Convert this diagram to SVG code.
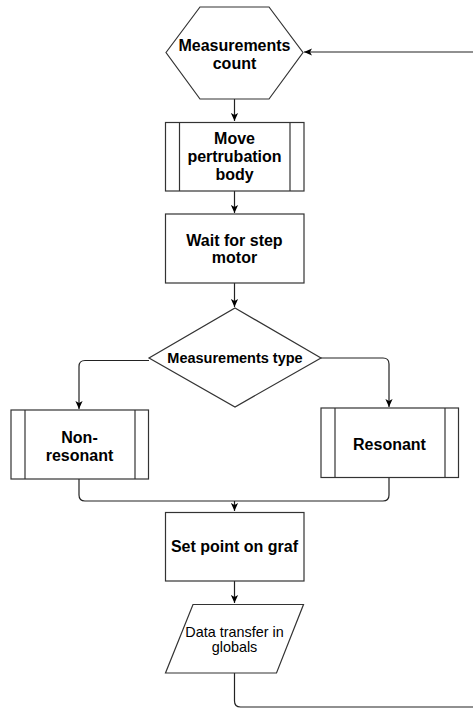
<svg xmlns="http://www.w3.org/2000/svg" width="473" height="709" viewBox="0 0 473 709">
<defs>
<marker id="arr" viewBox="0 0 10 10" refX="10" refY="5" markerWidth="8" markerHeight="8" markerUnits="userSpaceOnUse" orient="auto">
<path d="M0,0.5 L10,5 L0,9.5 L2.5,5 Z" fill="#000"/>
</marker>
<style>
.shape{fill:#fff;stroke:#333;stroke-width:1.2}
.edge{fill:none;stroke:#222;stroke-width:1.2}
.t{font-family:"Liberation Sans",Arial,sans-serif;font-weight:bold;font-size:16px;fill:#000;text-anchor:middle}
.r{font-weight:normal;font-size:14.4px}
.m{font-size:14.5px}
</style>
</defs>
<rect width="473" height="709" fill="#fff"/>
<g id="connectors">
<path class="edge" d="M234.5,99 V121" marker-end="url(#arr)"/>
<path class="edge" d="M234.5,191 V213" marker-end="url(#arr)"/>
<path class="edge" d="M234.5,283 V307" marker-end="url(#arr)"/>
<path class="edge" d="M149,360.5 H85 Q79,360.5 79,366.5 V409" marker-end="url(#arr)"/>
<path class="edge" d="M321,358 H383 Q389,358 389,364 V407" marker-end="url(#arr)"/>
<path class="edge" d="M79,479 V495 Q79,501 85,501 H383 Q389,501 389,495 V478"/>
<path class="edge" d="M234.5,501 V511" marker-end="url(#arr)"/>
<path class="edge" d="M234.5,581 V603" marker-end="url(#arr)"/>
<path class="edge" d="M234.5,673 V701 Q234.5,707 240.5,707 H477 V52 H304" marker-end="url(#arr)"/>
</g>
<g id="measurements-count">
<polygon class="shape" points="166,52.5 200,7 269,7 303,52.5 269,99 200,99"/>
<text class="t" x="234.5" y="51">Measurements</text>
<text class="t" x="234.5" y="69">count</text>
</g>
<g id="move-body">
<rect class="shape" x="165.5" y="122.5" width="138.5" height="68.5"/>
<line class="shape" x1="179.5" y1="122.5" x2="179.5" y2="191"/>
<line class="shape" x1="290" y1="122.5" x2="290" y2="191"/>
<text class="t" x="234.5" y="144">Move</text>
<text class="t" x="234.5" y="162">pertrubation</text>
<text class="t" x="234.5" y="180">body</text>
</g>
<g id="wait-step">
<rect class="shape" x="165.5" y="214" width="138.5" height="69"/>
<text class="t" x="234.5" y="246">Wait for step</text>
<text class="t" x="234.5" y="263">motor</text>
</g>
<g id="measurements-type">
<polygon class="shape" points="235,308 321,358 235,407 149,358"/>
<text class="t m" x="235" y="363">Measurements type</text>
</g>
<g id="non-resonant">
<rect class="shape" x="11" y="410" width="137.5" height="69"/>
<line class="shape" x1="25" y1="410" x2="25" y2="479"/>
<line class="shape" x1="135" y1="410" x2="135" y2="479"/>
<text class="t" x="79.5" y="443">Non-</text>
<text class="t" x="79.5" y="461">resonant</text>
</g>
<g id="resonant">
<rect class="shape" x="321" y="408" width="137.5" height="69.5"/>
<line class="shape" x1="335" y1="408" x2="335" y2="477.5"/>
<line class="shape" x1="445" y1="408" x2="445" y2="477.5"/>
<text class="t" x="389.5" y="450">Resonant</text>
</g>
<g id="set-point">
<rect class="shape" x="165.5" y="512.5" width="138.5" height="68.5"/>
<text class="t" x="234.5" y="552">Set point on graf</text>
</g>
<g id="data-transfer">
<polygon class="shape" points="193,604.5 303.5,604.5 276.5,673 165.5,673"/>
<text class="t r" x="234.5" y="637">Data transfer in</text>
<text class="t r" x="234.5" y="652">globals</text>
</g>
</svg>
